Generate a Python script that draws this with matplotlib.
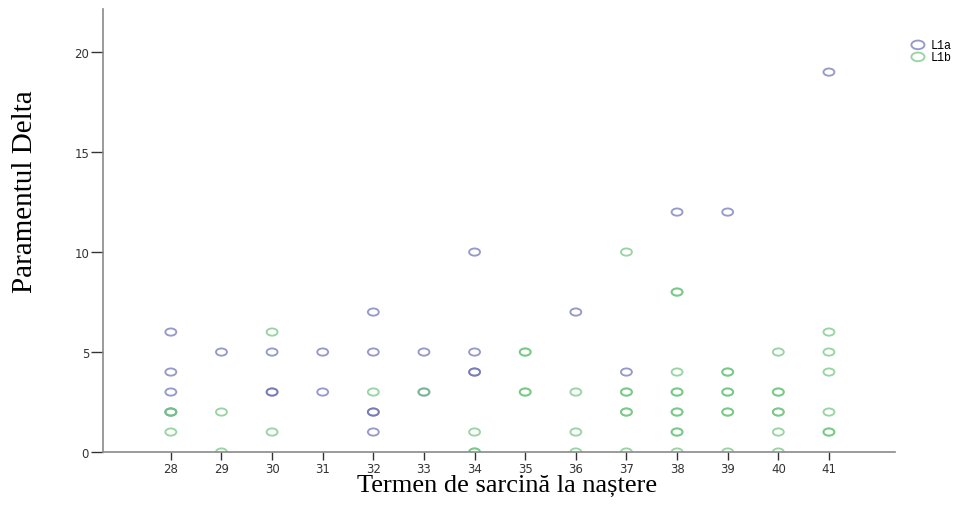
import matplotlib
matplotlib.use("Agg")
import matplotlib.pyplot as plt
from matplotlib.path import Path
from matplotlib.transforms import Affine2D

# gestational age (weeks) vs Delta parameter, repeated values = overlapping cases
l1a_x = [28, 28, 28, 28, 29, 30, 30, 30, 31, 31, 32, 32, 32, 32, 32,
         33, 33, 34, 34, 34, 34, 36, 37, 38, 39, 41]
l1a_y = [6, 4, 3, 2, 5, 5, 3, 3, 5, 3, 7, 5, 2, 2, 1,
         5, 3, 10, 5, 4, 4, 7, 4, 12, 12, 19]

l1b_x = [28, 28, 28, 29, 29, 30, 30, 32, 33, 34, 34, 34,
         35, 35, 35, 35, 36, 36, 36,
         37, 37, 37, 37, 37, 37,
         38, 38, 38, 38, 38, 38, 38, 38, 38, 38,
         39, 39, 39, 39, 39, 39, 39,
         40, 40, 40, 40, 40, 40, 40,
         41, 41, 41, 41, 41, 41]
l1b_y = [2, 2, 1, 2, 0, 6, 1, 3, 3, 1, 0, 0,
         5, 5, 3, 3, 3, 1, 0,
         10, 3, 3, 2, 2, 0,
         8, 8, 4, 3, 3, 2, 2, 1, 1, 0,
         4, 4, 3, 3, 2, 2, 0,
         5, 3, 3, 2, 2, 1, 0,
         6, 5, 4, 2, 1, 1]

x_ticks = list(range(28, 42))
y_ticks = [0, 5, 10, 15, 20]

blue = "#6a70b2"
green = "#6cc47c"

# flattened circle like the original SPSS output
ellipse = Path.unit_circle().transformed(Affine2D().scale(1.0, 0.66))

fig = plt.figure(figsize=(9.59, 5.06), dpi=100)
ax = fig.add_axes([0.1074, 0.1047, 0.8256, 0.8753])

ax.scatter(l1a_x, l1a_y, marker=ellipse, s=62, facecolors="none",
           edgecolors=blue, linewidths=1.35, alpha=0.7, label="L1a")
ax.scatter(l1b_x, l1b_y, marker=ellipse, s=62, facecolors="none",
           edgecolors=green, linewidths=1.35, alpha=0.7, label="L1b")

ax.set_xlim(26.66, 42.3)
ax.set_ylim(0, 22.15)
ax.set_xticks(x_ticks)
ax.set_yticks(y_ticks)

for side in ["top", "right"]:
    ax.spines[side].set_visible(False)
for side in ["left", "bottom"]:
    ax.spines[side].set_color("#8a8a8a")
    ax.spines[side].set_linewidth(1.2)

ax.tick_params(axis="both", direction="out", length=6, width=1.0,
               color="#333333", labelsize=8.5, labelcolor="#333333", pad=1)
ax.tick_params(axis="y", length=9)

# axis titles placed by hand, as in the source picture
fig.text(0.5287, 0.061, "Termen de sarcină la naștere", family="Liberation Serif",
         fontsize=19, ha="center", va="top")
fig.text(0.026, 0.6206, "Paramentul Delta", family="Liberation Serif",
         fontsize=21, ha="center", va="center", rotation=90)

leg = fig.legend(loc="upper right", bbox_to_anchor=(1.0, 0.935), frameon=False,
                 prop={"family": "Liberation Mono", "size": 8.5},
                 handletextpad=0.1, labelspacing=0.0, borderaxespad=0.2,
                 markerscale=1.2)

fig.savefig("out.png", dpi=100)
